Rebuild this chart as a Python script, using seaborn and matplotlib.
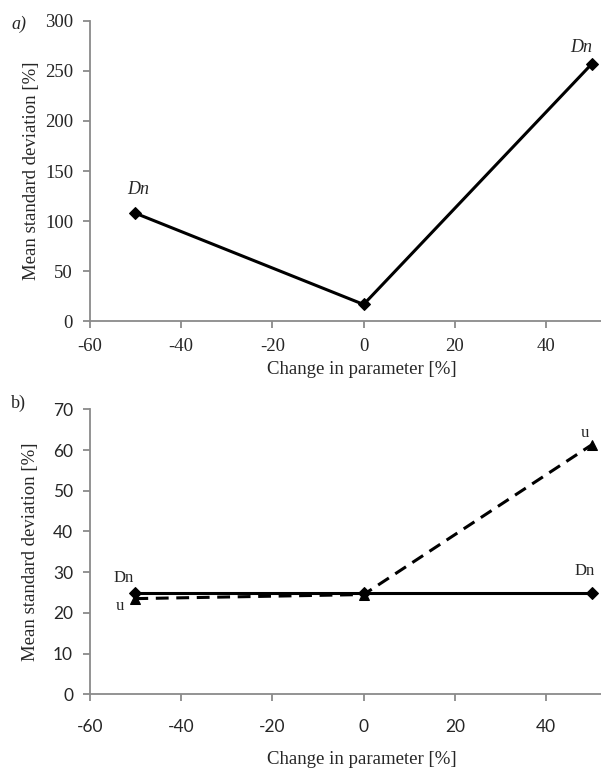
import matplotlib
matplotlib.use("Agg")
import matplotlib.pyplot as plt
import seaborn as sns
import pandas as pd

# ---- data ----
change = [-50, 0, 50]
a_dn = [108, 17, 257]
b_dn = [25, 25, 25]
b_u = [23.5, 24.5, 61.3]
xticks = [-60, -40, -20, 0, 20, 40]
a_yticks = [0, 50, 100, 150, 200, 250, 300]
b_yticks = [0, 10, 20, 30, 40, 50, 60, 70]

sns.set_style("ticks")
SERIF = ["Liberation Serif", "DejaVu Serif"]
SANS = ["Lato", "DejaVu Sans"]
plt.rcParams["font.family"] = SERIF
plt.rcParams["axes.unicode_minus"] = False

W, H = 601, 769
fig = plt.figure(figsize=(W / 100, H / 100), dpi=100)

def frac_box(left_px, top_px, right_px, bottom_px):
    return [left_px / W, 1 - bottom_px / H, (right_px - left_px) / W, (bottom_px - top_px) / H]

ax1 = fig.add_axes(frac_box(89.7, 20.7, 601, 321.5))
ax2 = fig.add_axes(frac_box(89.7, 409.3, 601, 694.3))

GRAY = "#8a8a8a"
df_a = pd.DataFrame({"x": change, "y": a_dn})
df_b = pd.DataFrame({"x": change + change, "y": b_dn + b_u,
                     "s": ["Dn"] * 3 + ["u"] * 3})

# ---- panel a ----
sns.lineplot(data=df_a, x="x", y="y", ax=ax1, color="black", lw=2.2,
             marker="D", markersize=6, markeredgecolor="black")
ax1.set_xlim(-60, 52)
ax1.set_ylim(0, 300)
ax1.set_xticks(xticks)
ax1.set_yticks(a_yticks)
ax1.set_xlabel("Change in parameter [%]", fontsize=13.5, family=SERIF)
ax1.set_ylabel("Mean standard deviation [%]", fontsize=13.5, family=SERIF)
ax1.xaxis.set_label_coords(0.533, -0.13)
ax1.yaxis.set_label_coords(-0.097, 0.5)
for lab in ax1.get_xticklabels() + ax1.get_yticklabels():
    lab.set_fontfamily(SERIF)
    lab.set_fontsize(13.5)
ax1.tick_params(axis="x", length=5, width=1.3, color=GRAY, pad=7)
ax1.tick_params(axis="y", length=5, width=1.3, color=GRAY, pad=7)

label_a_offsets = [(3, 24), None, (-11, 16)]
for xv, yv, off in zip(change, a_dn, label_a_offsets):
    if off is None:
        continue
    ax1.annotate("Dn", (xv, yv), xytext=off, textcoords="offset pixels",
                 ha="center", va="center", fontsize=13, style="italic",
                 family=SERIF)

# ---- panel b ----
sns.lineplot(data=df_b[df_b.s == "Dn"], x="x", y="y", ax=ax2, color="black",
             lw=2.2, marker="D", markersize=6, markeredgecolor="black")
sns.lineplot(data=df_b[df_b.s == "u"], x="x", y="y", ax=ax2, color="black",
             lw=2.2, marker="^", markersize=6.5, markeredgecolor="black",
             linestyle="--")
ax2.lines[-1].set_dashes([4.2, 2.5])
ax2.set_xlim(-60, 52)
ax2.set_ylim(0, 70)
ax2.set_xticks(xticks)
ax2.set_yticks(b_yticks)
ax2.set_xlabel("Change in parameter [%]", fontsize=13.5, family=SERIF)
ax2.set_ylabel("Mean standard deviation [%]", fontsize=13.5, family=SERIF)
ax2.xaxis.set_label_coords(0.533, -0.2)
ax2.yaxis.set_label_coords(-0.099, 0.5)
for lab in ax2.get_xticklabels() + ax2.get_yticklabels():
    lab.set_fontfamily(SANS)
    lab.set_fontsize(12.5)
ax2.tick_params(axis="x", length=5, width=1.3, color=GRAY, pad=13)
ax2.tick_params(axis="y", length=5, width=1.3, color=GRAY, pad=7)

dn_offsets = [(-12, 15), None, (-7, 22)]
u_offsets = [(-15, -7), None, (-7, 12)]
for xv, yv, off in zip(change, b_dn, dn_offsets):
    if off is None:
        continue
    ax2.annotate("Dn", (xv, yv), xytext=off, textcoords="offset pixels",
                 ha="center", va="center", fontsize=12, family=SERIF)
for xv, yv, off in zip(change, b_u, u_offsets):
    if off is None:
        continue
    ax2.annotate("u", (xv, yv), xytext=off, textcoords="offset pixels",
                 ha="center", va="center", fontsize=12, family=SERIF)

for ax in (ax1, ax2):
    for side in ("top", "right"):
        ax.spines[side].set_visible(False)
    for side in ("left", "bottom"):
        ax.spines[side].set_color(GRAY)
        ax.spines[side].set_linewidth(1.3)

fig.text(19 / W, 1 - 24 / H, "a)", fontsize=13, style="italic", family=SERIF,
         ha="center", va="center")
fig.text(18.4 / W, 1 - 403 / H, "b)", fontsize=13, family=SERIF,
         ha="center", va="center")

fig.savefig("out.png", dpi=100)
